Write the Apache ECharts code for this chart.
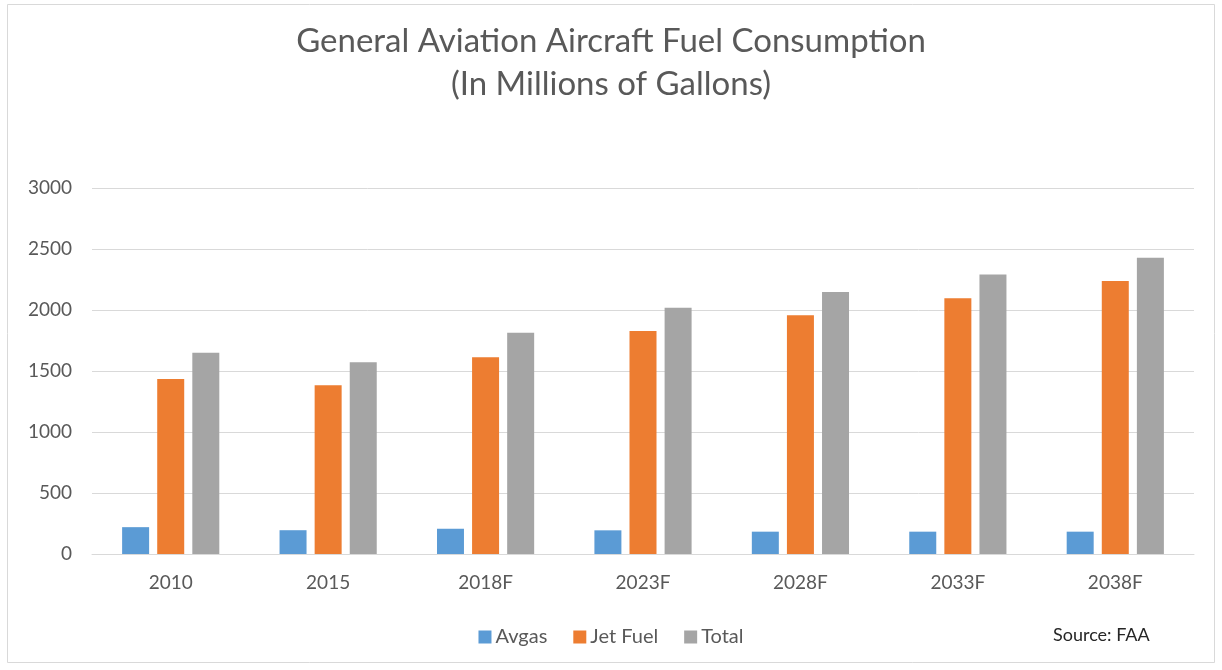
<!DOCTYPE html>
<html>
<head>
<meta charset="utf-8">
<script src="https://cdn.jsdelivr.net/npm/echarts@6/dist/echarts.min.js"></script>
<style>
  html, body { margin: 0; padding: 0; background: #fff; }
  #chart { width: 1222px; height: 670px; }
</style>
</head>
<body>
<div id="chart"></div>
<script>
// 年份（F = 预测值）
const years = ['2010', '2015', '2018F', '2023F', '2028F', '2033F', '2038F']
// 各系列数值，单位：百万加仑
const avgas = [220, 195, 207, 194, 183, 183, 183]
const jetFuel = [1434, 1383, 1612, 1828, 1956, 2096, 2238]
const total = [1650, 1571, 1814, 2019, 2148, 2290, 2429]
const yTicks = [0, 500, 1000, 1500, 2000, 2500, 3000]

const fontFamily = 'Lato, "Open Sans", sans-serif'
const textColor = '#595959'

let myChart = echarts.init(document.getElementById('chart'))

function makeSeries (name, data, color) {
  return {
    name: name,
    type: 'bar',
    data: data,
    barWidth: 27,
    barGap: '30%',
    itemStyle: { color: color }
  }
}

let option = {
  backgroundColor: '#fff',
  animation: false,
  title: {
    text: 'General Aviation Aircraft Fuel Consumption\n(In Millions of Gallons)',
    left: 'center',
    top: 15,
    textStyle: {
      fontFamily: fontFamily,
      fontWeight: 'normal',
      fontSize: 33,
      lineHeight: 43,
      color: textColor
    }
  },
  legend: {
    top: 622,
    left: 'center',
    itemWidth: 13,
    itemHeight: 13,
    itemGap: 26,
    icon: 'rect',
    textStyle: { fontFamily: fontFamily, fontSize: 20, color: textColor, padding: [0, 0, 0, -1] },
    data: ['Avgas', 'Jet Fuel', 'Total']
  },
  grid: {
    left: 92,
    right: 28,
    top: 188,
    bottom: 116
  },
  xAxis: {
    type: 'category',
    data: years,
    axisLine: { lineStyle: { color: '#d9d9d9' } },
    axisTick: { show: false },
    axisLabel: { fontFamily: fontFamily, fontSize: 19, color: textColor, margin: 19 }
  },
  yAxis: {
    type: 'value',
    min: yTicks[0],
    max: yTicks[yTicks.length - 1],
    interval: 500,
    axisLine: { show: false },
    axisTick: { show: false },
    splitLine: { lineStyle: { color: '#d9d9d9' } },
    axisLabel: {
      fontFamily: fontFamily,
      fontSize: 19,
      color: textColor,
      margin: 20,
      formatter: function (value) {
        return String(value) // 不要千位分隔符
      }
    }
  },
  graphic: [
    {
      // 外边框
      type: 'rect',
      shape: { x: 7.5, y: 4.5, width: 1207, height: 658 },
      style: { fill: null, stroke: '#d9d9d9', lineWidth: 1 },
      silent: true
    },
    {
      type: 'text',
      left: 1053,
      top: 626,
      style: {
        text: 'Source: FAA',
        font: '18px ' + fontFamily,
        fill: '#262626'
      }
    }
  ],
  series: [
    makeSeries('Avgas', avgas, '#5b9bd5'),
    makeSeries('Jet Fuel', jetFuel, '#ed7d31'),
    makeSeries('Total', total, '#a5a5a5')
  ]
}

myChart.setOption(option, true)
</script>
</body>
</html>
